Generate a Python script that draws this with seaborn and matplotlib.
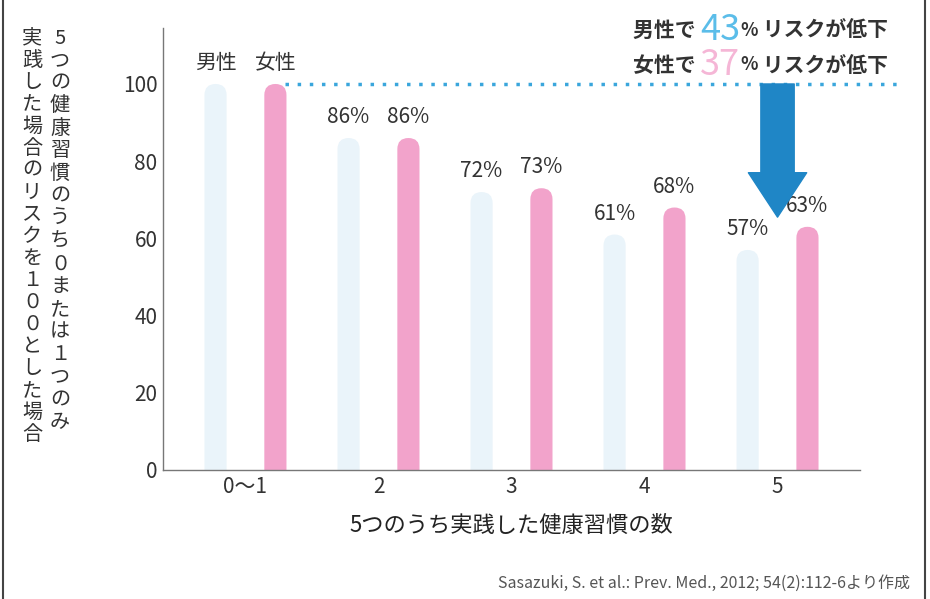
import matplotlib
matplotlib.use("Agg")
import matplotlib.pyplot as plt
from matplotlib.lines import Line2D
from matplotlib.patches import FancyBboxPatch
import seaborn as sns
import pandas as pd

# values (risk, 0-1 habits = 100)
groups = ["0〜1", "2", "3", "4", "5"]
male = [100, 86, 72, 61, 57]
female = [100, 86, 73, 68, 63]
sex_names = ["男性", "女性"]

ylabel_right = "5つの健康習慣のうち０または１つのみ"
ylabel_left = "実践した場合のリスクを１００とした場合"
xlabel = "5つのうち実践した健康習慣の数"
source = "Sasazuki, S. et al.: Prev. Med., 2012; 54(2):112-6より作成"

df = pd.DataFrame({
    "group": groups * 2,
    "risk": male + female,
    "sex": [sex_names[0]] * len(groups) + [sex_names[1]] * len(groups),
})

sns.set_style("white")
plt.rcParams["font.family"] = ["Noto Sans CJK JP", "DejaVu Sans"]

W, H = 930, 599
fig = plt.figure(figsize=(W / 100, H / 100), dpi=100)
ax = fig.add_axes([163 / W, 1 - 470 / H, (860 - 163) / W, (470 - 28) / H])

pink = "#f2a3cb"
pale_blue = "#eaf4fa"
sns.barplot(data=df, x="group", y="risk", hue="sex", hue_order=sex_names,
            palette=[pale_blue, pink], saturation=1, width=0.9, gap=0.63,
            legend=False, ax=ax)

ax.set_ylim(0, 114.5)
ax.set_xlim(-0.62, 4.62)
ax.set_yticks(range(0, 101, 20))
ax.tick_params(length=0, labelsize=15, colors="#333333", pad=4)
ax.set_xlabel(xlabel, fontsize=16, color="#222222", labelpad=12)
ax.set_ylabel("")
sns.despine(ax=ax)
for s in ["left", "bottom"]:
    ax.spines[s].set_color("#777777")
    ax.spines[s].set_linewidth(1)

# labels above bars
male_lbl = [sex_names[0]] + [f"{v}%" for v in male[1:]]
female_lbl = [sex_names[1]] + [f"{v}%" for v in female[1:]]
for cont, lbls in zip(ax.containers, [male_lbl, female_lbl]):
    ax.bar_label(cont, labels=lbls, padding=7, fontsize=15, color="#333333")

# round the bar tops: swap each rectangle for a rounded box of the same size
fig.canvas.draw()
px_x = ax.transData.transform((1, 0))[0] - ax.transData.transform((0, 0))[0]
px_y = ax.transData.transform((0, 1))[1] - ax.transData.transform((0, 0))[1]
for cont in ax.containers:
    for p in cont.patches:
        x, w, h = p.get_x(), p.get_width(), p.get_height()
        r = w / 2
        ext = r * px_x / px_y  # extend below zero so only the top looks round
        rb = FancyBboxPatch((x, -ext), w, h + ext,
                            boxstyle=f"round,pad=0,rounding_size={r}",
                            mutation_aspect=px_x / px_y,
                            facecolor=p.get_facecolor(), edgecolor="none")
        p.set_visible(False)
        ax.add_patch(rb)

# dotted reference line at 100 and the arrow
ax.plot([0.3, 4.9], [100, 100], color="#3aa6dc", lw=2.5,
        linestyle=(0, (1, 2.5)), clip_on=False)
ax.annotate("", xy=(4.0, 65.5), xytext=(4.0, 100),
            arrowprops=dict(arrowstyle="simple,head_length=32,head_width=42,tail_width=24",
                            mutation_scale=1, color="#1f86c6", shrinkA=0, shrinkB=0))

# risk reduction text (top right)
def risk_line(y, who, num, col):
    t = fig.text(633 / W, y, who + "で ", fontsize=15, fontweight="bold",
                 color="#333333", va="center")
    t2 = ax.annotate(num, xy=(1, 0.5), xycoords=t, va="center", ha="left",
                     fontsize=26, color=col, annotation_clip=False)
    t3 = ax.annotate("%", xy=(1, 0.5), xycoords=t2, va="center", ha="left",
                     fontsize=13, fontweight="bold", color="#333333", annotation_clip=False)
    ax.annotate(" リスクが低下", xy=(1, 0.5), xycoords=t3, va="center", ha="left",
                fontsize=15, fontweight="bold", color="#333333", annotation_clip=False)

risk_line(1 - 30 / H, sex_names[0], str(100 - male[-1]), "#5bbde9")
risk_line(1 - 65 / H, sex_names[1], str(100 - female[-1]), "#f5b6d6")

# vertical (tategaki) y-axis label, two columns
for col_x, text, y0, step in [(60, ylabel_right, 38, 22.6), (32, ylabel_left, 38, 22.05)]:
    for i, ch in enumerate(text):
        fig.text(col_x / W, 1 - (y0 + i * step) / H, ch, fontsize=14.5,
                 color="#333333", ha="center", va="center")

fig.text(910 / W, 1 - 583 / H, source, fontsize=11.5, color="#555555",
         ha="right", va="center")

# page edges from the scan
fig.add_artist(Line2D([3 / W, 3 / W], [0, 1], color="#444444", lw=1.5))
fig.add_artist(Line2D([925 / W, 925 / W], [0, 1], color="#444444", lw=1.5))

fig.savefig("out.png", dpi=100, facecolor="white")
